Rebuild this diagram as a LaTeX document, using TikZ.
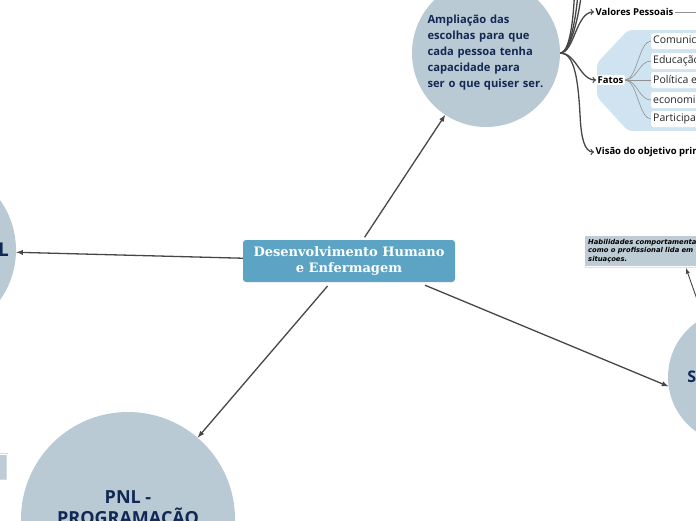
\documentclass[tikz,border=0pt]{standalone}
\usepackage{fontspec}
\setmainfont{DejaVu Serif}
\newfontfamily\mapfont{Open Sans}
\newfontfamily\notefont{DejaVu Sans}
\usetikzlibrary{calc,shapes,arrows,positioning}
\definecolor{centralblue}{RGB}{93,164,196}
\definecolor{topicgray}{RGB}{185,202,213}
\definecolor{topicnavy}{RGB}{17,40,84}
\definecolor{linkgray}{RGB}{70,70,70}
\definecolor{fatosblue}{RGB}{207,228,240}
\definecolor{noteblue}{RGB}{190,204,214}

\begin{document}
\begin{tikzpicture}[x=1pt, y=-1pt,
			central/.style={rectangle, rounded corners=3pt, fill=centralblue, text=white,
				align=center, minimum width=212pt, minimum height=42pt, inner sep=2pt,
				font=\fontsize{13}{16}\selectfont\bfseries},
			topic/.style={circle, fill=topicgray, text=topicnavy, inner sep=0pt,
				align=center, font=\mapfont\bfseries},
			branch/.style={anchor=west, inner sep=1.5pt, text=black,
				font=\mapfont\bfseries\fontsize{9.5}{11}\selectfont},
			item/.style={anchor=west, rectangle, rounded corners=2pt, fill=white,
				minimum height=16pt, inner sep=2pt, text=black!85,
				font=\mapfont\fontsize{10.5}{12}\selectfont},
			note/.style={rectangle, fill=noteblue, anchor=north west, align=left,
				inner sep=3pt, font=\notefont\bfseries\itshape\fontsize{6.8}{8.6}\selectfont},
			arr/.style={-latex, line width=1.3pt, linkgray},
			sub/.style={->, line width=1.3pt, linkgray},
			twig/.style={linkgray!60, line width=0.6pt}]
			
			\useasboundingbox (0,0) rectangle (696,520);
			
			% Topics
			\node[central] (A) at (349,261) {Desenvolvimento Humano\\e Enfermagem};
			\node[topic, minimum size=148pt, text width=117pt, align=left,
				font=\mapfont\bfseries\fontsize{11.2}{16}\selectfont] (B) at (486,53)
				{Ampliação das\\escolhas para que\\cada pessoa tenha\\capacidade para\\ser o que quiser ser.};
			\node[topic, minimum size=172pt] (L) at (-70,250) {};
			\node[anchor=east, text=topicnavy, inner sep=0pt,
				font=\mapfont\bfseries\fontsize{19}{22}\selectfont] (Ltxt) at (9,250) {L};
			\node[topic, minimum size=214pt] (P) at (128,519) {};
			\node[text=topicnavy, align=center, inner sep=0pt,
				font=\mapfont\bfseries\fontsize{18}{21}\selectfont] (Ptxt) at (128,510) {PNL -\\PROGRAMAÇÃO};
			\node[topic, minimum size=134pt, font=\mapfont\bfseries\fontsize{16}{19}\selectfont] (S) at (735,377) {SOFT SKILLS};
			
			% Notes
			\node[note, text width=130pt] (N) at (585,236)
				{Habilidades comportamentais e\\como o profissional lida em\\situaçoes.};
			\draw[noteblue!55, line width=1.5pt] ([yshift=-1.5pt]N.south west) -- ([yshift=-1.5pt]N.south east);
			\node[rectangle, fill=noteblue, draw=noteblue!70, double=white, double distance=1pt,
				minimum width=30pt, minimum height=26pt] (Q) at (-8,467) {};
			
			% Branches of B
			\fill[fatosblue, rounded corners=4pt] (628,30) -- (597,63) -- (597,97) -- (628,131)
				-- (710,131) -- (710,30) -- cycle;
			\node[branch] (V) at (594,12) {Valores Pessoais};
			\node[branch, fill=white, rounded corners=2pt] (F) at (596,80) {Fatos};
			\node[branch] (O) at (594,152) {Visão do objetivo principal};
			\node[item] (F1) at (651,41)  {Comunicação};
			\node[item] (F2) at (651,61)  {Educação};
			\node[item] (F3) at (651,80)  {Política e sociedade};
			\node[item] (F4) at (651,100) {economia};
			\node[item] (F5) at (651,119) {Participação};
			\coordinate (hub) at (B.east);
			\coordinate (up1) at (575,-30);
			\coordinate (up2) at (579,-30);
			\coordinate (up3) at (583,-30);
			\coordinate (Vnext) at (720,12);
			
			% Arrows
			\draw[arr, shorten <=3pt] (A) -- (B);
			\draw[arr] (A) -- (L);
			\draw[arr, shorten <=5pt] (A) -- (P);
			\draw[arr] ([xshift=76pt,yshift=-3pt]A.south) -- (S.188);
			\draw[-latex, line width=0.9pt, linkgray] (S.118) -- ([xshift=101pt,yshift=-2pt]N.south west);
			\foreach \u in {up1,up2,up3}
				\draw[sub] (hub) .. controls +(12,0) and +(0,30) .. (\u);
			\draw[sub] (hub) .. controls +(14,0) and +(-18,0) .. (V.west);
			\draw[sub] (hub) .. controls +(16,0) and +(-16,0) .. (F.west);
			\draw[sub] (hub) .. controls +(14,0) and +(-2,-40) .. ++(20,65) .. controls +(1,18) and +(-10,0) .. (O.west);
			\draw[twig] (V.east) -- (Vnext);
			\foreach \n in {1,...,5}
				\draw[twig] (F.east) .. controls +(12,0) and +(-12,0) .. (F\n.west);
		\end{tikzpicture}
\end{document}
